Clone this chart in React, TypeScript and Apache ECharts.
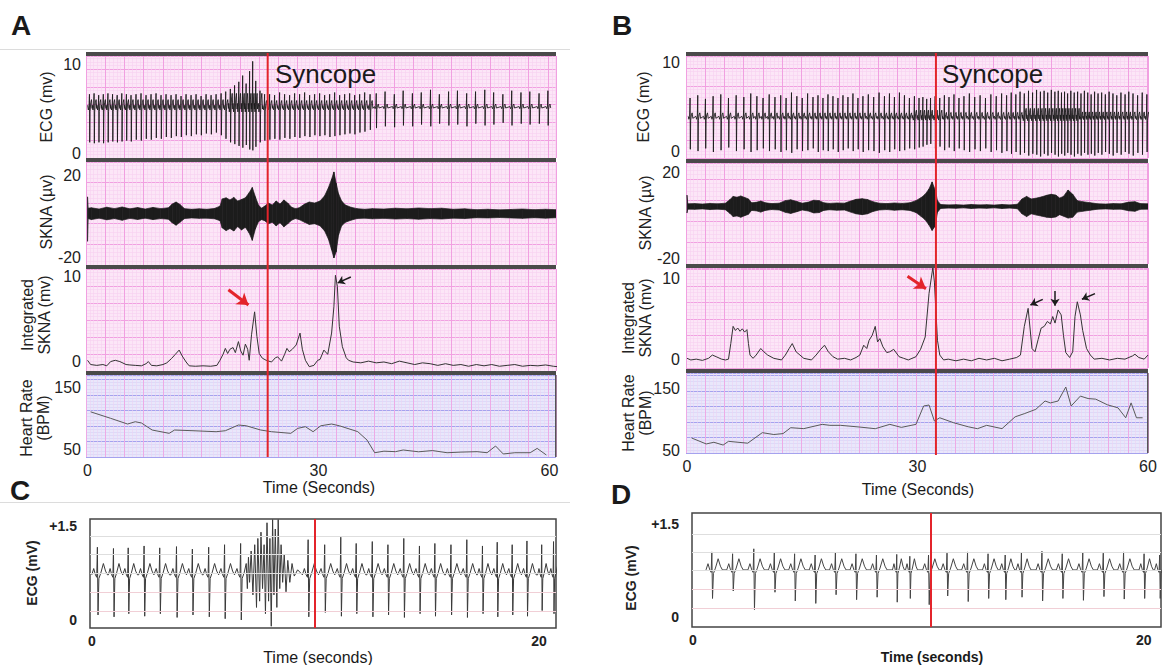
import React, { useEffect, useRef } from "react";
import * as echarts from "echarts";

const FONT = '"Liberation Sans", Arial, Helvetica, sans-serif';

// ---------------- tick labels & markers ----------------
const TIME_TICKS_60 = [0, 30, 60];
const TIME_TICKS_20 = [0, 20];
const ECG_TICKS = [0, 10];
const SKNA_TICKS = [-20, 20];
const ISKNA_TICKS = [0, 10];
const HR_TICKS = [50, 150];
const STRIP_TICKS = [0, 1.5];
const STRIP_GUIDES = [0.14, 0.45, 0.75, 1.04, 1.34];

const SYNCOPE_A = 23.4;
const SYNCOPE_B = 32.4;
const SYNCOPE_C = 9.96;
const SYNCOPE_D = 10.55;

// arrows on integrated SKNA: [tail t, tail v, head t, head v]
const ARROWS_A_RED = [[18.3, 8.5, 20.9, 6.7]];
const ARROWS_A_BLACK = [[34.2, 10.0, 32.5, 9.3]];
const ARROWS_B_RED = [[28.7, 10.2, 31.1, 8.7]];
const ARROWS_B_BLACK = [[46.3, 7.4, 44.7, 6.7], [47.9, 8.4, 47.9, 6.6], [53.1, 8.1, 51.4, 7.4]];

// ---------------- Panel A data ----------------
// ECG beats: [time s, R peak mV, S trough mV]
const ECG_A_BASE = 5.1;
const ECG_A_BEATS = [
  [0.25, 6.6, 1.2], [0.85, 6.7, 1.1], [1.45, 6.5, 1.2], [2.05, 6.6, 1.1], [2.65, 6.7, 1.2],
  [3.25, 6.6, 1.3], [3.85, 6.5, 1.2], [4.45, 6.7, 1.3], [5.05, 6.6, 1.4], [5.65, 6.5, 1.3],
  [6.3, 6.6, 1.5], [6.95, 6.7, 1.4], [7.6, 6.5, 1.6], [8.25, 6.6, 1.5], [8.9, 6.7, 1.7],
  [9.55, 6.5, 1.6], [10.2, 6.6, 1.8], [10.85, 6.5, 1.7], [11.5, 6.6, 1.9], [12.15, 6.4, 1.8],
  [12.8, 6.6, 2.0], [13.45, 6.5, 1.9], [14.1, 6.6, 2.1], [14.75, 6.4, 2.0], [15.4, 6.6, 2.2],
  [16.05, 6.5, 2.1], [16.7, 6.6, 2.3], [17.35, 6.7, 2.0], [17.95, 6.9, 1.6], [18.55, 7.2, 1.2],
  [19.1, 7.6, 1.0], [19.65, 8.0, 0.8], [20.15, 8.7, 0.6], [20.6, 7.8, 0.9], [21.05, 9.2, 0.4],
  [21.45, 10.3, 0.3], [21.85, 8.1, 0.7], [22.4, 7.0, 1.2], [23.0, 6.6, 1.4], [23.65, 6.6, 1.5],
  [24.3, 6.5, 1.6], [24.95, 6.8, 1.5], [25.6, 6.6, 1.7], [26.25, 6.5, 1.6], [26.9, 6.7, 1.8],
  [27.55, 6.6, 1.7], [28.2, 6.8, 1.9], [28.85, 6.5, 1.8], [29.5, 6.6, 2.0], [30.15, 6.7, 1.9],
  [30.8, 6.5, 2.0], [31.45, 6.6, 1.8], [32.1, 6.8, 1.9], [32.75, 6.5, 2.0], [33.4, 6.6, 2.1],
  [34.05, 6.7, 2.2], [34.7, 6.5, 2.1], [35.35, 6.6, 2.3], [36.0, 6.8, 2.4], [36.7, 6.6, 2.6],
  [37.5, 6.7, 2.8], [38.65, 6.9, 3.0], [39.85, 6.6, 2.9], [41.0, 7.0, 3.1], [42.2, 6.7, 3.0],
  [43.35, 6.8, 3.2], [44.55, 7.1, 3.0], [45.7, 6.6, 3.3], [46.9, 6.9, 3.1], [48.05, 7.0, 3.2],
  [49.25, 6.7, 3.0], [50.4, 6.9, 3.3], [51.6, 7.1, 3.1], [52.75, 6.8, 3.2], [53.95, 6.6, 3.4],
  [55.1, 7.0, 3.1], [56.3, 6.8, 3.3], [57.45, 6.9, 3.2], [58.65, 6.7, 3.3], [59.8, 7.0, 3.1],
];
// baseline-wave amplitude by time span: [from, to, amplitude mV]
const ECG_A_NOISE = [[0, 18, 0.9], [18, 22.5, 1.6], [22.5, 37, 0.8], [37, 62, 0.4]];

// SKNA envelope: [time s, upper µV, lower µV]
const SKNA_A_ENV = [
  [0, 9.5, -12], [0.08, 4, -1], [0.5, 4.2, -1.5], [1.5, 3.6, -0.8], [2.5, 4.5, -1.6], [3.5, 3.8, -1.0],
  [4.5, 4.6, -1.8], [5.5, 3.7, -0.9], [6.5, 4.3, -1.4], [7.5, 3.6, -0.8], [8.5, 4.4, -1.5], [9.5, 3.8, -1.0],
  [10.5, 4.2, -1.3], [11.0, 6.0, -3.0], [11.5, 7.0, -4.2], [12.0, 5.8, -2.8], [12.6, 3.8, -1.0],
  [13.5, 3.5, -0.7], [14.5, 3.7, -0.9], [15.5, 3.5, -0.8], [16.5, 3.9, -1.1], [17.2, 5.0, -2.0],
  [17.5, 8.5, -5.5], [18.0, 9.0, -6.8], [18.5, 8.0, -5.8], [19.0, 9.2, -7.0], [19.5, 7.5, -4.8],
  [20.0, 8.2, -6.5], [20.5, 9.0, -5.2], [21.0, 11.5, -8.0], [21.4, 14.0, -11.5], [21.8, 9.5, -6.0],
  [22.2, 5.5, -2.5], [22.6, 4.0, -1.5], [23.0, 5.0, -2.0], [23.5, 6.5, -3.5], [24.0, 5.5, -2.8],
  [24.5, 7.5, -4.5], [25.0, 6.0, -3.0], [25.5, 8.0, -5.0], [26.0, 6.5, -3.5], [26.5, 4.5, -1.8],
  [27.0, 3.8, -1.0], [27.5, 4.2, -1.5], [28.2, 6.0, -2.8], [28.8, 7.0, -3.8], [29.5, 6.5, -3.5],
  [30.2, 7.5, -4.5], [30.8, 10.0, -7.0], [31.3, 14.0, -11.0], [31.7, 18.0, -16.0], [32.0, 21.5, -20.0],
  [32.3, 16.0, -17.0], [32.6, 11.0, -9.0], [33.0, 7.5, -4.5], [33.5, 5.5, -2.8], [34.2, 4.5, -1.8],
  [35.0, 3.8, -1.0], [36.0, 3.5, -0.8], [37.0, 3.8, -1.1], [38.5, 3.6, -0.9], [40.0, 4.0, -1.2],
  [41.5, 3.7, -1.0], [43.0, 4.1, -1.3], [44.5, 3.8, -1.0], [46.0, 4.0, -1.2], [47.5, 3.5, -0.8],
  [49.0, 3.7, -1.0], [50.5, 3.3, -0.6], [52.0, 3.5, -0.7], [53.5, 3.2, -0.5], [55.0, 3.4, -0.7],
  [56.5, 3.6, -0.9], [58.0, 3.3, -0.6], [59.5, 3.5, -0.8], [60.85, 3.3, -0.6],
];

// Integrated SKNA: [time s, mV]
const ISKNA_A = [
  [0, 0.2], [0.4, -0.3], [1.2, -0.4], [2, -0.3], [2.5, -0.45], [3, 0.05], [3.6, 0.2], [4.2, 0.05],
  [5, -0.3], [5.5, -0.35], [6.2, -0.4], [7, -0.45], [7.6, -0.2], [7.9, 0.05], [8.3, -0.4], [9, -0.45],
  [9.8, -0.3], [10.3, -0.1], [10.9, 0.4], [11.4, 0.9], [11.9, 1.4], [12.3, 0.7], [12.8, 0.0], [13.2, -0.45],
  [14, -0.5], [15, -0.45], [16, -0.5], [16.8, -0.4], [17.2, 0.2], [17.6, 0.9], [17.9, 1.6], [18.2, 1.0],
  [18.5, 1.5], [18.9, 1.7], [19.2, 1.1], [19.6, 2.4], [19.9, 1.3], [20.2, 0.8], [20.5, 2.1], [20.8, 1.5],
  [21.0, 0.2], [21.3, 3.2], [21.7, 5.9], [22.0, 3.0], [22.3, 1.0], [22.7, 0.45], [23.2, 0.2], [23.9, 0.0],
  [24.4, 0.5], [24.7, 0.6], [25.2, 0.1], [25.6, 0.9], [25.9, 1.6], [26.2, 1.2], [26.6, 1.5], [27.1, 2.0],
  [27.6, 3.4], [27.9, 1.5], [28.3, 0.2], [28.8, -0.55], [29.4, -0.4], [29.9, 0.2], [30.2, 0.3], [30.7, 1.4],
  [31.2, 0.9], [31.7, 3.4], [32.0, 6.5], [32.2, 10.2], [32.45, 8.9], [32.7, 4.2], [33.1, 1.8], [33.6, 0.5],
  [33.9, 0.2], [34.5, 0.0], [35.5, -0.1], [36.5, 0.1], [37.5, -0.1], [38.5, 0.0], [39.5, -0.2], [40.5, 0.1],
  [41.5, -0.1], [42.5, -0.3], [43.5, -0.1], [44.5, -0.2], [45.5, -0.4], [46.5, -0.2], [47.5, -0.4],
  [48.5, -0.3], [49.5, -0.5], [50.5, -0.3], [51.5, -0.45], [52.5, -0.3], [53.5, -0.5], [54.5, -0.4],
  [55.5, -0.3], [56.5, -0.5], [57.5, -0.4], [58.5, -0.45], [59.5, -0.35], [60.5, -0.5], [61.0, -0.55],
];

// Heart rate: [time s, BPM]
const HR_A = [
  [0.4, 110], [3, 99.5], [5.2, 90.3], [6.2, 94], [7, 92], [8.4, 80.6], [10.6, 75.3], [11.3, 80.6],
  [13.7, 79.5], [16.7, 77.9], [17.9, 79.5], [19.6, 88.7], [20.6, 87.5], [22.5, 80.6], [23.9, 77.9],
  [26.4, 75.3], [27.3, 83.3], [28.3, 86], [29.3, 77.9], [30.3, 87.5], [31.7, 90.3], [32.7, 87.5],
  [35.1, 78], [36.3, 64.5], [37.3, 44], [38.5, 46.5], [40, 45.7], [41, 48.4], [43, 45.5], [44.8, 47.5],
  [46.7, 44], [48.5, 45], [50.6, 45.7], [51.9, 44], [53, 54.8], [54, 42], [55.5, 44], [57.5, 44],
  [58.4, 51], [59.6, 40.3],
];

// ---------------- Panel B data ----------------
const ECG_B_BASE = 3.8;
const ECG_B_BEATS = [
  [0.4, 6.0, 0.3], [1.4, 6.3, 0.1], [2.4, 5.9, 0.4], [3.4, 6.2, 0.0], [4.4, 6.4, 0.2], [5.4, 6.0, 0.5],
  [6.4, 6.3, 0.1], [7.4, 6.1, 0.3], [8.3, 6.5, 0.0], [9.1, 6.2, 0.2], [9.9, 6.0, 0.4], [10.7, 6.4, 0.1],
  [11.45, 6.1, 0.3], [12.2, 6.3, 0.0], [12.9, 6.0, 0.2], [13.6, 6.6, -0.1], [14.3, 6.2, 0.3], [15.0, 6.0, 0.1],
  [15.7, 6.5, 0.2], [16.4, 6.1, 0.4], [17.05, 6.3, 0.0], [17.7, 6.0, 0.2], [18.35, 6.4, 0.1], [19.0, 6.2, 0.3],
  [19.65, 6.0, 0.0], [20.3, 6.3, 0.2], [20.95, 6.1, 0.4], [21.6, 6.5, 0.1], [22.25, 6.0, 0.3], [22.9, 6.2, 0.0],
  [23.6, 6.4, 0.2], [24.3, 6.1, 0.1], [25.0, 6.6, -0.1], [25.7, 6.2, 0.2], [26.35, 6.5, 0.0], [27.0, 6.1, 0.3],
  [27.65, 6.6, 0.1], [28.3, 6.3, 0.2], [28.95, 6.0, 0.4], [29.6, 6.2, 0.3], [30.2, 6.0, 0.5], [30.7, 6.1, 0.6],
  [31.2, 5.9, 0.8], [31.7, 6.0, 0.9], [32.3, 6.2, 0.4], [32.9, 6.0, 0.6], [33.5, 6.3, 0.2], [34.1, 6.1, 0.5],
  [34.75, 6.4, 0.1], [35.4, 6.0, 0.4], [36.05, 6.2, 0.2], [36.75, 6.5, 0.0], [37.45, 6.1, 0.3], [38.15, 6.3, 0.1],
  [38.85, 6.0, 0.4], [39.55, 6.4, 0.0], [40.25, 6.2, 0.2], [40.95, 6.5, -0.1], [41.6, 6.3, 0.1], [42.2, 6.6, -0.2],
  [42.8, 6.4, 0.0], [43.35, 6.7, -0.3], [43.9, 6.5, -0.1], [44.45, 6.8, -0.4], [44.98, 6.6, -0.2], [45.5, 6.9, -0.3],
  [46.0, 6.7, -0.5], [46.48, 6.8, -0.2], [46.95, 6.6, -0.4], [47.42, 6.9, -0.1], [47.88, 6.7, -0.3], [48.32, 6.8, -0.5],
  [48.74, 6.6, -0.2], [49.14, 6.7, -0.4], [49.54, 6.5, -0.1], [49.96, 6.8, -0.3], [50.4, 6.6, -0.5], [50.84, 6.7, -0.2],
  [51.28, 6.5, -0.4], [51.72, 6.8, -0.1], [52.16, 6.6, -0.3], [52.6, 6.4, -0.2], [53.05, 6.7, -0.4], [53.5, 6.5, -0.1],
  [53.97, 6.6, -0.3], [54.45, 6.4, 0.0], [54.94, 6.7, -0.2], [55.44, 6.5, -0.4], [55.94, 6.3, -0.1], [56.48, 6.6, -0.3],
  [57.02, 6.4, 0.0], [57.5, 6.7, -0.2], [58.05, 6.5, -0.4], [58.65, 6.3, -0.1], [59.25, 6.6, -0.3], [59.85, 6.4, 0.0],
];
const ECG_B_NOISE = [[0, 29, 0.55], [29, 33, 0.85], [33, 43.5, 0.6], [43.5, 51, 1.05], [51, 62, 0.65]];

const SKNA_B_ENV = [
  [0, 9.6, 1.2], [0.1, 5.5, 3.0], [1, 5.6, 2.9], [2, 5.4, 3.1], [3, 5.7, 2.8], [4, 5.5, 3.0], [5, 5.8, 2.7],
  [5.6, 7.5, 1.0], [6.0, 9.0, -0.5], [6.5, 8.6, -0.2], [7.0, 9.2, -0.8], [7.5, 8.5, -0.1], [8.0, 7.8, 0.6],
  [8.4, 6.0, 2.4], [9.0, 6.2, 2.2], [9.6, 6.8, 1.6], [10.2, 6.0, 2.4], [11.0, 5.6, 2.8], [12.0, 5.8, 2.6],
  [12.8, 7.0, 1.5], [13.5, 7.4, 1.0], [14.3, 6.6, 1.8], [15.0, 5.8, 2.6], [15.8, 6.3, 2.1], [16.5, 7.2, 1.2],
  [17.2, 7.0, 1.4], [17.8, 6.0, 2.4], [18.5, 5.7, 2.7], [19.5, 5.9, 2.5], [20.5, 5.8, 2.6], [21.3, 6.8, 1.6],
  [22.0, 7.6, 0.8], [22.8, 7.9, 0.4], [23.5, 7.5, 0.8], [24.2, 6.5, 1.9], [25.0, 5.8, 2.6], [26.0, 5.6, 2.8],
  [27.0, 5.9, 2.5], [28.0, 5.7, 2.7], [29.0, 6.0, 2.4], [29.8, 7.0, 1.4], [30.5, 8.5, -0.5], [31.0, 10.0, -2.0],
  [31.5, 12.5, -4.5], [31.9, 15.8, -7.0], [32.3, 12.0, -5.0], [32.6, 7.0, 1.5], [33.0, 5.2, 3.3], [34, 5.0, 3.5],
  [35, 5.1, 3.4], [36, 4.9, 3.6], [37, 5.2, 3.3], [38, 5.0, 3.5], [39, 5.1, 3.4], [40, 4.9, 3.6], [41, 5.2, 3.3],
  [42, 5.0, 3.5], [43, 5.3, 3.2], [43.6, 7.8, 0.8], [44.2, 9.0, -0.5], [44.8, 7.8, 0.8], [45.5, 8.2, 0.2],
  [46.2, 8.8, -0.3], [46.8, 9.5, -0.8], [47.4, 10.0, -1.0], [48.0, 9.6, -0.7], [48.5, 8.2, 0.4], [49.0, 9.0, -0.3],
  [49.6, 12.0, -1.2], [50.2, 10.0, -0.8], [50.8, 7.0, 1.6], [51.5, 6.5, 2.0], [52.5, 6.0, 2.5], [53.5, 5.5, 3.0],
  [54.5, 5.4, 3.1], [55.5, 5.6, 2.9], [56.5, 5.5, 3.0], [57.5, 6.3, 2.2], [58.3, 6.5, 2.0], [59.0, 5.6, 2.9],
  [60, 5.5, 3.0],
];

const ISKNA_B = [
  [0, 0.2], [0.5, 0.0], [1.2, 0.1], [2, -0.05], [2.8, 0.2], [3.3, 0.6], [3.8, 0.4], [4.5, 0.1], [5.0, 0.0],
  [5.4, 0.1], [5.7, 2.0], [6.0, 4.1], [6.3, 3.6], [6.6, 3.9], [6.9, 3.5], [7.2, 3.8], [7.5, 3.4], [7.8, 3.7],
  [8.0, 2.0], [8.2, 0.6], [8.6, 0.2], [9.0, 0.6], [9.6, 1.4], [10.0, 1.0], [10.5, 0.6], [11.3, 0.2], [12.3, 0.0],
  [12.8, 0.6], [13.3, 1.4], [13.7, 2.0], [14.2, 1.0], [14.7, 0.6], [15.2, 0.2], [16.2, 0.0], [16.8, 0.6],
  [17.4, 1.3], [17.9, 1.8], [18.4, 1.0], [19.0, 0.4], [19.6, 0.1], [20.5, 0.2], [21.3, 0.0], [22.0, 0.3],
  [22.5, 0.6], [23.0, 1.8], [23.4, 1.4], [23.7, 2.4], [24.1, 3.0], [24.5, 4.1], [24.8, 2.2], [25.1, 2.6],
  [25.5, 1.6], [26.0, 0.9], [26.4, 1.0], [26.9, 1.3], [27.6, 0.4], [28.2, 0.2], [28.8, 0.0], [29.8, 0.4],
  [30.4, 1.3], [31.0, 2.8], [31.5, 8.1], [32.0, 11.3], [32.2, 9.5], [32.6, 2.4], [32.9, 0.6], [33.4, 0.0],
  [34, 0.1], [35, -0.1], [36, 0.1], [37, -0.1], [38, 0.2], [39, 0.0], [40, 0.2], [41, -0.1], [42, 0.1],
  [42.9, 0.3], [43.4, 0.6], [43.9, 4.1], [44.4, 6.3], [44.9, 1.4], [45.3, 1.0], [45.7, 2.5], [46.1, 3.9],
  [46.5, 4.1], [46.9, 4.7], [47.3, 4.4], [47.6, 5.3], [47.9, 4.5], [48.3, 6.1], [48.7, 5.5], [49.0, 3.0],
  [49.3, 0.9], [49.8, 0.3], [50.2, 1.0], [50.5, 5.3], [50.8, 7.1], [51.2, 5.5], [51.5, 3.6], [52.0, 1.4],
  [52.5, 0.6], [53, 0.1], [54, 0.2], [55, 0.0], [56, 0.2], [57, 0.1], [58, 0.5], [58.3, 0.7], [58.8, 0.3],
  [59.5, 0.1], [60.0, 0.6],
];

const HR_B = [
  [0.6, 69.4], [2.5, 59.8], [3.5, 62.5], [4.7, 58], [5.4, 64], [7.9, 61], [9.8, 78], [11.3, 75], [12.5, 76.5],
  [13.5, 86], [15.2, 84.5], [17.6, 91.4], [18.6, 89.8], [20, 89.8], [22.5, 87], [24.5, 84.4], [26.4, 91.4],
  [27.9, 86.5], [29.8, 91.4], [30.8, 121], [31.5, 122.6], [32.2, 96.8], [32.9, 102], [34.7, 94], [36.6, 87.5],
  [37.8, 84.4], [39, 89.8], [41, 84.5], [42.7, 103.5], [43.9, 108.6], [45.4, 115.6], [46.6, 129], [47.3, 126],
  [48.3, 129], [49.3, 151.6], [50, 121], [51.2, 137], [52.2, 133], [53.2, 132], [54.7, 123], [56.1, 118],
  [57.1, 102], [57.8, 126], [58.5, 102], [59.3, 102],
];

// ---------------- Panel C / D strips ----------------
const ECG_C_BASE = 0.72;
const ECG_C_BEATS = [
  [0.24, 1.16, 0.08], [0.96, 1.14, 0.05], [1.62, 1.15, 0.1], [2.33, 1.18, 0.06], [3.03, 1.15, 0.1],
  [3.78, 1.17, 0.04], [4.49, 1.13, 0.08], [5.22, 1.16, 0.05], [5.93, 1.2, 0.02], [6.65, 1.22, 0.0],
  [9.67, 1.28, 0.05], [10.41, 1.2, 0.12], [11.13, 1.32, 0.06], [11.82, 1.22, 0.1], [12.54, 1.25, 0.05],
  [13.24, 1.2, 0.08], [13.95, 1.3, 0.04], [14.65, 1.18, 0.1], [15.34, 1.22, 0.06], [16.06, 1.2, 0.08],
  [16.77, 1.28, 0.04], [17.47, 1.18, 0.1], [18.13, 1.24, 0.05], [18.8, 1.2, 0.08], [19.46, 1.26, 0.06],
  [20.12, 1.2, 0.15], [20.65, 1.25, 0.1],
];
// artefact burst in strip C: [time s, mV]
const ECG_C_BURST = [
  [6.9, 0.9], [6.95, 0.5], [7.0, 1.0], [7.05, 0.6], [7.12, 1.1], [7.2, 0.4], [7.28, 1.2], [7.36, 0.2],
  [7.42, 1.3], [7.5, 0.3], [7.56, 1.4], [7.63, 0.5], [7.7, 1.2], [7.76, 0.1], [7.83, 1.55], [7.9, 0.3],
  [7.96, 1.3], [8.02, -0.1], [8.08, 1.6], [8.14, 0.4], [8.2, 1.45], [8.27, 0.2], [8.33, 1.6], [8.4, 0.5],
  [8.46, 1.2], [8.53, 0.6], [8.6, 1.05], [8.68, 0.45], [8.76, 0.95], [8.85, 0.6], [8.95, 0.9], [9.05, 0.7],
  [9.2, 0.8],
];

const ECG_D_BASE = 0.76;
const ECG_D_BEATS = [
  [0.84, 1.05, 0.3], [1.76, 1.02, 0.42], [2.7, 1.1, 0.12], [3.61, 1.04, 0.4], [4.51, 1.02, 0.26],
  [5.42, 1.0, 0.22], [6.32, 1.04, 0.36], [7.23, 1.02, 0.28], [8.14, 1.0, 0.32], [9.04, 1.01, 0.24],
  [9.62, 0.98, 0.3], [10.45, 1.0, 0.2], [11.27, 1.03, 0.34], [12.18, 1.05, 0.25], [13.09, 1.02, 0.3],
  [13.85, 1.0, 0.28], [14.57, 1.04, 0.32], [15.48, 1.06, 0.26], [16.38, 1.02, 0.3], [17.29, 1.04, 0.27],
  [18.2, 1.03, 0.33], [19.1, 1.05, 0.29], [20.01, 1.02, 0.3], [20.7, 1.0, 0.3],
];

// ---------------- beat shapes ----------------
const DENSE_DT = [-0.24, -0.15, -0.06, 0, 0.035, 0.08, 0.17, 0.27, 0.36];
const DENSE_SHAPE: (number | string)[] = [0.3, -0.3, 0.2, "R", "S", -0.5, 0.6, 1.0, -0.1];
const STRIP_DT = [-0.26, -0.17, -0.09, -0.03, 0, 0.03, 0.07, 0.16, 0.28, 0.38, 0.47];
const STRIP_SHAPE: (number | string)[] = [0, 0.1, 0.0, -0.04, "R", "S", -0.06, 0.03, 0.18, 0.06, 0];

// ---------------- colours ----------------
const PINK_BG = "#fce6f7";
const PINK_MAJOR = "#f1a0e1";
const PINK_MINOR = "#f7d0f0";
const LAV_BG = "#e9e7fb";
const BLUE_MAJOR = "#a5a2ee";
const BLUE_MINOR = "#d5d2f7";
const BAR = "#4a4a4a";
const RED = "#e3242b";
const INK = "#1c1c1c";

function noiseAt(t: number, segs: number[][]) {
  for (const s of segs) if (t >= s[0] && t < s[1]) return s[2];
  return segs[segs.length - 1][2];
}

function buildBeats(
  beats: number[][], base: number, dts: number[], shape: (number | string)[],
  span: number, noise?: number[][]
) {
  const out: number[][] = [];
  beats.forEach((b, i) => {
    const [t, hi, lo] = b;
    const prev = i > 0 ? beats[i - 1][0] : -Infinity;
    const next = i < beats.length - 1 ? beats[i + 1][0] : Infinity;
    const rr = Math.min(t - prev, next - t);
    const s = Math.min(1, rr / span);
    const w = noise ? noiseAt(t, noise) : 1;
    dts.forEach((dt, k) => {
      const sh = shape[k];
      const v = sh === "R" ? hi : sh === "S" ? lo : base + (sh as number) * w;
      out.push([+(t + dt * s).toFixed(3), v]);
    });
  });
  return out;
}

// SKNA envelope drawn as filled quads between consecutive envelope samples
function bandSeries(env: number[][], xi: number) {
  return {
    type: "custom", xAxisIndex: xi, yAxisIndex: xi, silent: true, clip: true,
    data: env, encode: { x: 0, y: [1, 2] },
    renderItem: (params: any, api: any) => {
      const i = params.dataIndex;
      if (i >= env.length - 1) return null;
      const a = env[i];
      const b = env[i + 1];
      const pts = [
        api.coord([a[0], a[1]]), api.coord([b[0], b[1]]),
        api.coord([b[0], b[2]]), api.coord([a[0], a[2]]),
      ];
      return { type: "polygon", shape: { points: pts }, style: { fill: INK, stroke: INK, lineWidth: 0.7 } };
    },
  };
}

function arrowLines(list: number[][], color: string, width: number, size: number) {
  return {
    symbol: ["none", "arrow"], symbolSize: size, silent: true, label: { show: false },
    lineStyle: { color, width, type: "solid" },
    data: list.map((a) => [{ coord: [a[0], a[1]] }, { coord: [a[2], a[3]] }]),
  };
}

const GRIDS = [
  { left: 86, top: 56, width: 470, height: 102 },
  { left: 86, top: 162, width: 470, height: 103 },
  { left: 86, top: 269, width: 470, height: 102 },
  { left: 86, top: 375, width: 470, height: 82 },
  { left: 686, top: 56, width: 462, height: 102 },
  { left: 686, top: 163, width: 462, height: 101 },
  { left: 686, top: 268, width: 462, height: 100 },
  { left: 686, top: 373, width: 462, height: 80 },
  { left: 90, top: 519, width: 466, height: 109 },
  { left: 692, top: 513, width: 469, height: 114 },
];

function pinkX(gi: number, min: number, max: number, labels: number[] | null, hr: boolean) {
  return {
    type: "value", gridIndex: gi, min, max, interval: 2.5,
    axisLine: { show: false }, axisTick: { show: false },
    axisLabel: labels
      ? { show: true, customValues: labels, fontSize: 16, color: "#222", margin: 5, fontFamily: FONT }
      : { show: false },
    splitLine: { show: true, lineStyle: { color: hr ? "#eeaae6" : PINK_MAJOR, width: 1 } },
    minorTick: { show: false, splitNumber: 5 },
    minorSplitLine: { show: true, lineStyle: { color: hr ? "#ecd3f3" : PINK_MINOR, width: 0.6 } },
  };
}

function pinkY(gi: number, min: number, max: number, interval: number, labels: number[], hr: boolean, margin: number) {
  return {
    type: "value", gridIndex: gi, min, max, interval,
    axisLine: { show: false }, axisTick: { show: false },
    axisLabel: { show: true, customValues: labels, fontSize: 16, color: "#222", margin, fontFamily: FONT },
    splitLine: { show: true, lineStyle: { color: hr ? BLUE_MAJOR : PINK_MAJOR, width: 1 } },
    minorTick: { show: false, splitNumber: 5 },
    minorSplitLine: { show: true, lineStyle: { color: hr ? BLUE_MINOR : PINK_MINOR, width: 0.6 } },
  };
}

function stripX(gi: number, min: number, max: number) {
  return {
    type: "value", gridIndex: gi, min, max,
    axisLine: { show: false }, axisTick: { show: false }, splitLine: { show: false },
    axisLabel: { show: true, customValues: TIME_TICKS_20, fontSize: 14, fontWeight: "bold", color: "#222", margin: 6, fontFamily: FONT },
  };
}
function stripY(gi: number, min: number, max: number) {
  return {
    type: "value", gridIndex: gi, min, max,
    axisLine: { show: false }, axisTick: { show: false }, splitLine: { show: false },
    axisLabel: {
      show: true, customValues: STRIP_TICKS, fontSize: 14, fontWeight: "bold", color: "#222", margin: 13,
      fontFamily: FONT, formatter: (v: number) => (v > 0 ? "+" + v : String(v)),
    },
  };
}

function vText(x: number, y: number, text: string, size = 16, weight = "normal") {
  return {
    type: "text", x, y, rotation: Math.PI / 2, z: 20,
    style: {
      text, fontSize: size, fontWeight: weight, fontFamily: FONT, fill: "#222",
      align: "center", verticalAlign: "middle", textAlign: "center", textVerticalAlign: "middle", lineHeight: 17,
    },
  };
}
function hText(x: number, y: number, text: string, size = 16, weight = "normal", align = "center") {
  return {
    type: "text", x, y, z: 20,
    style: {
      text, fontSize: size, fontWeight: weight, fontFamily: FONT, fill: "#1a1a1a",
      align, verticalAlign: "middle", textAlign: align, textVerticalAlign: "middle",
    },
  };
}
function bar(x: number, y: number, w: number, h = 4) {
  return { type: "rect", z: 15, shape: { x, y, width: w, height: h }, style: { fill: BAR } };
}

function baseGraphics() {
  return [
    { type: "line", z: 1, shape: { x1: 0, y1: 49.5, x2: 570, y2: 49.5 }, style: { stroke: "#dcdcdc", lineWidth: 1 } },
    { type: "line", z: 1, shape: { x1: 0, y1: 502.5, x2: 570, y2: 502.5 }, style: { stroke: "#dcdcdc", lineWidth: 1 } },
    hText(11, 25, "A", 28, "bold", "left"),
    hText(612, 25, "B", 28, "bold", "left"),
    hText(10, 490, "C", 28, "bold", "left"),
    hText(611, 494, "D", 28, "bold", "left"),
    bar(86, 52, 470), bar(86, 158, 470), bar(86, 265, 470), bar(86, 371, 470),
    bar(686, 52, 462), bar(686, 159, 462), bar(686, 264, 462), bar(686, 369, 462),
    { type: "rect", z: 15, shape: { x: 555, y: 375, width: 1.5, height: 82 }, style: { fill: "#555" } },
    { type: "rect", z: 15, shape: { x: 1147, y: 373, width: 1.5, height: 80 }, style: { fill: "#555" } },
    hText(275, 74, "Syncope", 26, "normal", "left"),
    hText(942, 74, "Syncope", 26, "normal", "left"),
    vText(46, 107, "ECG (mv)"),
    vText(46, 212, "SKNA (µv)"),
    vText(36, 315, "Integrated\nSKNA (mv)"),
    vText(35, 418, "Heart Rate\n(BPM)"),
    vText(643, 107, "ECG (mv)"),
    vText(645, 213, "SKNA (µv)"),
    vText(637, 318, "Integrated\nSKNA (mv)"),
    vText(637, 413, "Heart Rate\n(BPM)"),
    hText(319, 487, "Time (Seconds)", 16),
    hText(918, 489, "Time (Seconds)", 16),
    vText(32, 573, "ECG (mV)", 14, "bold"),
    vText(631, 578, "ECG (mV)", 14, "bold"),
    hText(318, 657, "Time (seconds)", 16),
    hText(932, 657, "Time (seconds)", 14, "bold"),
  ];
}

export default function App() {
  const ref = useRef<HTMLDivElement>(null);
  useEffect(() => {
    if (!ref.current) return;
    const chart = echarts.init(ref.current, null, { renderer: "svg" });

    const ecgA = buildBeats(ECG_A_BEATS, ECG_A_BASE, DENSE_DT, DENSE_SHAPE, 0.62, ECG_A_NOISE);
    const ecgB = buildBeats(ECG_B_BEATS, ECG_B_BASE, DENSE_DT, DENSE_SHAPE, 0.62, ECG_B_NOISE);
    const c0 = buildBeats(ECG_C_BEATS, ECG_C_BASE, STRIP_DT, STRIP_SHAPE, 0.75);
    const ecgC = c0.filter((p) => p[0] < 6.88 || p[0] > 9.25).concat(ECG_C_BURST).sort((a, b) => a[0] - b[0]);
    const ecgD = buildBeats(ECG_D_BEATS, ECG_D_BASE, STRIP_DT, STRIP_SHAPE, 0.8);

    const guideLines = STRIP_GUIDES.map((v, i) => ({
      yAxis: v, lineStyle: { color: i < 2 ? "#f1cfd6" : "#dedede", width: 1, type: "solid" },
    }));
    const stripMark = (t: number) => ({
      symbol: ["none", "none"], silent: true, label: { show: false },
      data: [...guideLines, { xAxis: t, lineStyle: { color: RED, width: 2, type: "solid" } }],
    });

    const xA = { min: -0.2, max: 60.85 };
    const xB = { min: -0.13, max: 60.0 };

    const line = (xi: number, data: number[][], color: string, width: number, extra: any = {}) => ({
      type: "line", xAxisIndex: xi, yAxisIndex: xi, symbol: "none", silent: true, data,
      lineStyle: { color, width }, ...extra,
    });

    const option: any = {
      animation: false,
      textStyle: { fontFamily: FONT },
      grid: GRIDS.map((g, i) => ({
        ...g, show: true, borderWidth: i >= 8 ? 1.5 : 0, borderColor: "#444",
        backgroundColor: i >= 8 ? "#ffffff" : i === 3 || i === 7 ? LAV_BG : PINK_BG,
        containLabel: false,
      })),
      xAxis: [
        pinkX(0, xA.min, xA.max, null, false),
        pinkX(1, xA.min, xA.max, null, false),
        pinkX(2, xA.min, xA.max, null, false),
        pinkX(3, xA.min, xA.max, TIME_TICKS_60, true),
        pinkX(4, xB.min, xB.max, null, false),
        pinkX(5, xB.min, xB.max, null, false),
        pinkX(6, xB.min, xB.max, null, false),
        pinkX(7, xB.min, xB.max, TIME_TICKS_60, true),
        stripX(8, -0.09, 20.76),
        stripX(9, -0.04, 20.76),
      ],
      yAxis: [
        pinkY(0, -0.56, 10.9, 2, ECG_TICKS, false, 5),
        pinkY(1, -23.4, 26.3, 10, SKNA_TICKS, false, 5),
        pinkY(2, -1.06, 10.94, 2, ISKNA_TICKS, false, 5),
        pinkY(3, 37.1, 169.4, 25, HR_TICKS, true, 5),
        pinkY(4, -0.67, 10.67, 2, ECG_TICKS, false, 6),
        pinkY(5, -22.8, 24.7, 10, SKNA_TICKS, false, 6),
        pinkY(6, -0.98, 11.22, 2, ISKNA_TICKS, false, 6),
        pinkY(7, 45.2, 174.2, 25, HR_TICKS, true, 6),
        stripY(8, -0.128, 1.61),
        stripY(9, -0.16, 1.677),
      ],
      series: [
        line(0, ecgA, INK, 0.9),
        bandSeries(SKNA_A_ENV, 1),
        line(2, ISKNA_A, "#333", 1),
        { ...line(2, [], RED, 0), markLine: arrowLines(ARROWS_A_RED, RED, 3, 11) },
        { ...line(2, [], INK, 0), markLine: arrowLines(ARROWS_A_BLACK, INK, 1.5, 7) },
        line(3, HR_A, "#5a5a5a", 1),
        line(4, ecgB, INK, 0.9),
        bandSeries(SKNA_B_ENV, 5),
        line(6, ISKNA_B, "#333", 1),
        { ...line(6, [], RED, 0), markLine: arrowLines(ARROWS_B_RED, RED, 3, 11) },
        { ...line(6, [], INK, 0), markLine: arrowLines(ARROWS_B_BLACK, INK, 1.5, 7) },
        line(7, HR_B, "#5a5a5a", 1),
        line(8, ecgC, "#3a3a3a", 1, { markLine: stripMark(SYNCOPE_C) }),
        line(9, ecgD, "#444", 1, { markLine: stripMark(SYNCOPE_D) }),
      ],
      graphic: { elements: baseGraphics() },
    };

    chart.setOption(option);

    // continuous red syncope lines across the stacked panels, placed by the time axes
    const xa = chart.convertToPixel({ xAxisIndex: 0 }, SYNCOPE_A) as number;
    const xb = chart.convertToPixel({ xAxisIndex: 4 }, SYNCOPE_B) as number;
    const red = (x: number, y1: number, y2: number) => ({
      type: "line", z: 30, shape: { x1: x, y1, x2: x, y2 }, style: { stroke: RED, lineWidth: 2 },
    });
    chart.setOption({ graphic: { elements: [...baseGraphics(), red(xa, 53, 457), red(xb, 53, 455)] } });

    return () => chart.dispose();
  }, []);

  return (
    <div
      ref={ref}
      style={{ position: "fixed", left: 0, top: 0, width: 1162, height: 665, background: "#fff" }}
    />
  );
}
